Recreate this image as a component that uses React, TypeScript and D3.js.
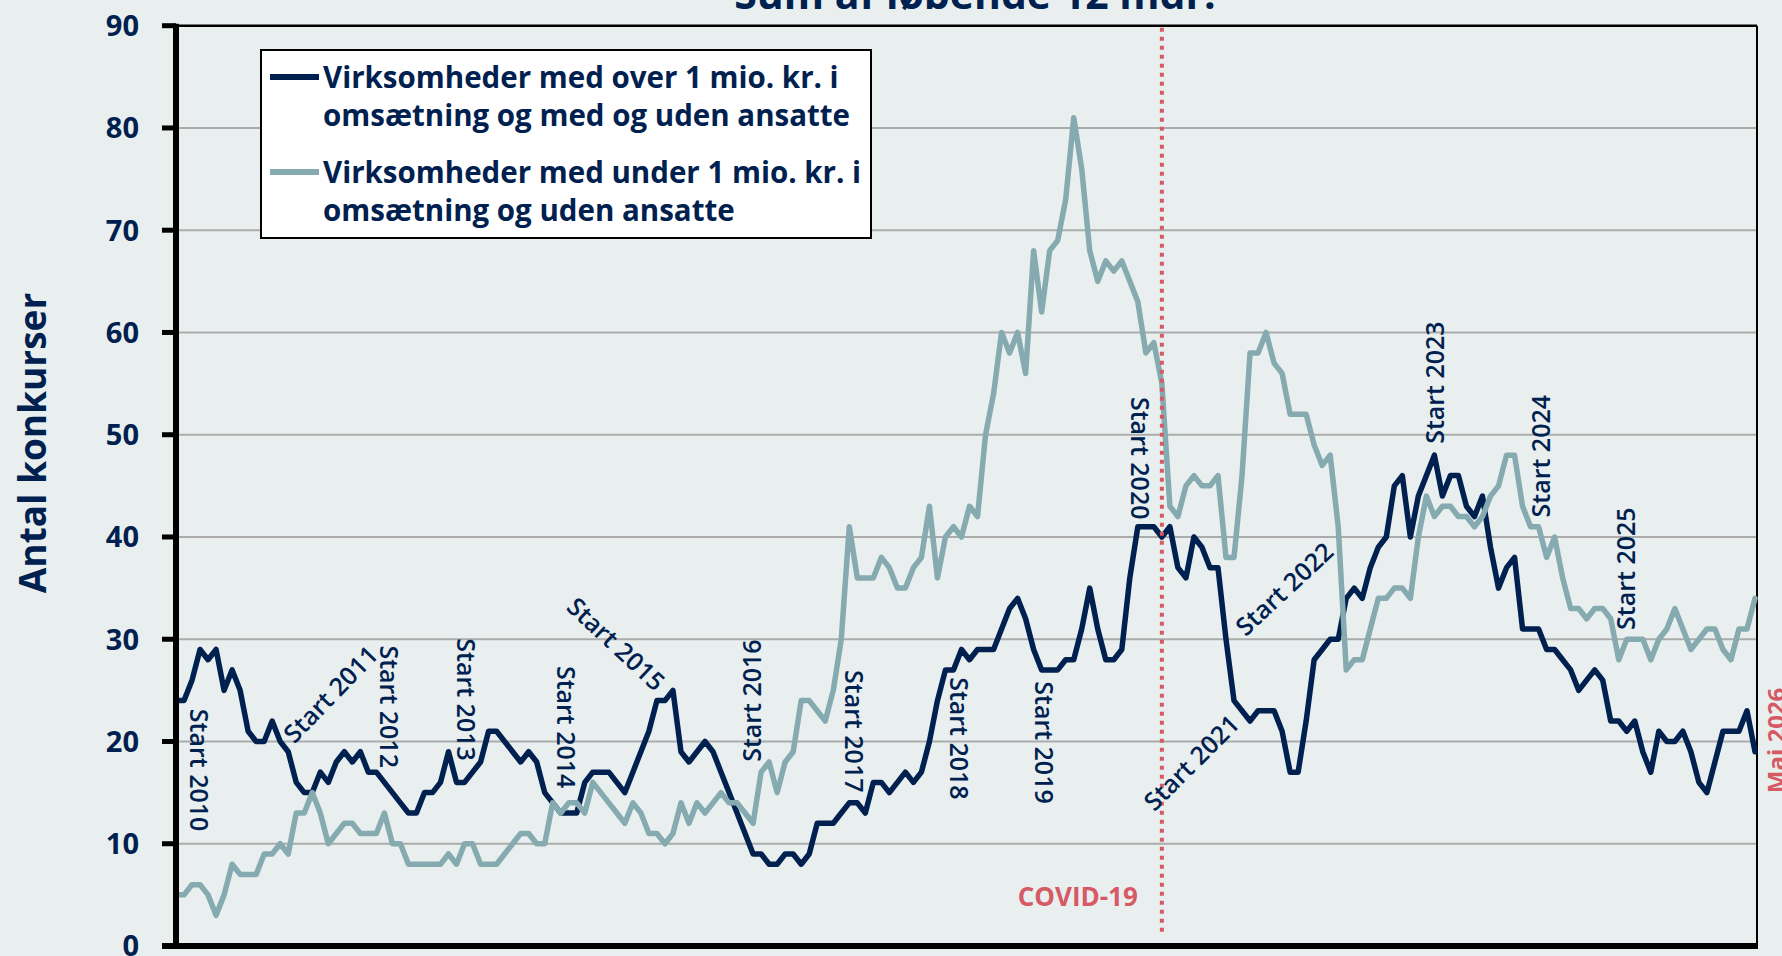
import React from 'react';
import * as d3 from 'd3';

// Antal konkurser, sum af løbende 12 mdr. (Dec 2009 .. Mai 2026)
const over1mio = [
  24, 24, 26, 29, 28, 29, 25, 27, 25, 21,
  20, 20, 22, 20, 19, 16, 15, 15, 17, 16,
  18, 19, 18, 19, 17, 17, 16, 15, 14, 13,
  13, 15, 15, 16, 19, 16, 16, 17, 18, 21,
  21, 20, 19, 18, 19, 18, 15, 14, 13, 13,
  13, 16, 17, 17, 17, 16, 15, 17, 19, 21,
  24, 24, 25, 19, 18, 19, 20, 19, 17, 15,
  13, 11, 9, 9, 8, 8, 9, 9, 8, 9,
  12, 12, 12, 13, 14, 14, 13, 16, 16, 15,
  16, 17, 16, 17, 20, 24, 27, 27, 29, 28,
  29, 29, 29, 31, 33, 34, 32, 29, 27, 27,
  27, 28, 28, 31, 35, 31, 28, 28, 29, 36,
  41, 41, 41, 40, 41, 37, 36, 40, 39, 37,
  37, 30, 24, 23, 22, 23, 23, 23, 21, 17,
  17, 22, 28, 29, 30, 30, 34, 35, 34, 37,
  39, 40, 45, 46, 40, 44, 46, 48, 44, 46,
  46, 43, 42, 44, 39, 35, 37, 38, 31, 31,
  31, 29, 29, 28, 27, 25, 26, 27, 26, 22,
  22, 21, 22, 19, 17, 21, 20, 20, 21, 19,
  16, 15, 18, 21, 21, 21, 23, 19,
];

const under1mio = [
  5, 5, 6, 6, 5, 3, 5, 8, 7, 7,
  7, 9, 9, 10, 9, 13, 13, 15, 13, 10,
  11, 12, 12, 11, 11, 11, 13, 10, 10, 8,
  8, 8, 8, 8, 9, 8, 10, 10, 8, 8,
  8, 9, 10, 11, 11, 10, 10, 14, 13, 14,
  14, 13, 16, 15, 14, 13, 12, 14, 13, 11,
  11, 10, 11, 14, 12, 14, 13, 14, 15, 14,
  14, 13, 12, 17, 18, 15, 18, 19, 24, 24,
  23, 22, 25, 30, 41, 36, 36, 36, 38, 37,
  35, 35, 37, 38, 43, 36, 40, 41, 40, 43,
  42, 50, 54, 60, 58, 60, 56, 68, 62, 68,
  69, 73, 81, 76, 68, 65, 67, 66, 67, 65,
  63, 58, 59, 55, 43, 42, 45, 46, 45, 45,
  46, 38, 38, 46, 58, 58, 60, 57, 56, 52,
  52, 52, 49, 47, 48, 41, 27, 28, 28, 31,
  34, 34, 35, 35, 34, 40, 44, 42, 43, 43,
  42, 42, 41, 42, 44, 45, 48, 48, 43, 41,
  41, 38, 40, 36, 33, 33, 32, 33, 33, 32,
  28, 30, 30, 30, 28, 30, 31, 33, 31, 29,
  30, 31, 31, 29, 28, 31, 31, 34,
];

const yTicks = [0, 10, 20, 30, 40, 50, 60, 70, 80, 90];

const legendItems = [
  ['Virksomheder med over 1 mio. kr. i', 'omsætning og med og uden ansatte'],
  ['Virksomheder med under 1 mio. kr. i', 'omsætning og uden ansatte'],
];

// year markers: month index, value, text angle
const yearNotes = [
  { text: 'Start 2010', i: 3.0, v: 17.2, rot: 90 },
  { text: 'Start 2011', i: 19.2, v: 24.7, rot: -46 },
  { text: 'Start 2012', i: 26.7, v: 23.4, rot: 90 },
  { text: 'Start 2013', i: 36.3, v: 24.1, rot: 90 },
  { text: 'Start 2014', i: 48.8, v: 21.4, rot: 90 },
  { text: 'Start 2015', i: 55.0, v: 29.6, rot: 43 },
  { text: 'Start 2016', i: 71.7, v: 24.0, rot: -90 },
  { text: 'Start 2017', i: 84.7, v: 21.0, rot: 90 },
  { text: 'Start 2018', i: 97.8, v: 20.3, rot: 90 },
  { text: 'Start 2019', i: 108.4, v: 19.9, rot: 90 },
  { text: 'Start 2020', i: 120.4, v: 47.7, rot: 90 },
  { text: 'Start 2021', i: 126.6, v: 18.0, rot: -45 },
  { text: 'Start 2022', i: 138.2, v: 35.0, rot: -43 },
  { text: 'Start 2023', i: 156.9, v: 55.1, rot: -90 },
  { text: 'Start 2024', i: 170.2, v: 47.9, rot: -90 },
  { text: 'Start 2025', i: 180.8, v: 36.9, rot: -90 },
];

const covidIndex = 123;

const W = 1782;
const H = 956;
const BG = '#E9EFEF';
const NAVY = '#00214F';
const TEAL = '#85AAAF';
const RED = '#D65A63';
const FONT = "'Open Sans', 'Noto Sans', sans-serif";

export default function App() {
  const left = 176;
  const right = 1755;
  const x = d3.scaleLinear().domain([0, over1mio.length - 1]).range([left, right]);
  const y = d3.scaleLinear().domain([0, 90]).range([946, 25.7]);
  const line = d3.line<number>().x((_, i) => x(i)).y(d => y(d));

  return (
    <svg width={W} height={H} style={{ position: 'absolute', left: 0, top: 0, display: 'block' }} fontFamily={FONT}>
      <rect width={W} height={H} fill={BG} />

      <text x={975} y={9} textAnchor="middle" fontSize={41} fontWeight={700} fill={NAVY}>
        Sum af løbende 12 mdr.
      </text>

      {/* grid */}
      {yTicks.filter(t => t > 0 && t < 90).map(t => (
        <line key={t} x1={left} x2={right + 2} y1={y(t)} y2={y(t)} stroke="#ABABAB" strokeWidth={2} />
      ))}

      {/* frame */}
      <line x1={left} x2={right + 2} y1={y(90)} y2={y(90)} stroke="#000" strokeWidth={2.5} />
      <line x1={right + 2} x2={right + 2} y1={y(90)} y2={y(0)} stroke="#000" strokeWidth={2} />

      <path d={line(over1mio) || ''} fill="none" stroke={NAVY} strokeWidth={5.5} strokeLinejoin="round" strokeLinecap="round" />
      <path d={line(under1mio) || ''} fill="none" stroke={TEAL} strokeWidth={5.5} strokeLinejoin="round" strokeLinecap="round" />

      {/* covid marker */}
      <line x1={x(covidIndex)} x2={x(covidIndex)} y1={y(90) + 2} y2={y(1.4)} stroke={RED} strokeWidth={4} strokeDasharray="4 5" />
      <text x={x(covidIndex) - 24} y={y(3.9)} textAnchor="end" fontSize={26} fontWeight={700} fill={RED}>COVID-19</text>

      {/* year labels */}
      {yearNotes.map(n => (
        <text key={n.text} transform={`translate(${x(n.i)},${y(n.v)}) rotate(${n.rot})`}
          textAnchor="middle" dominantBaseline="central" fontSize={25} fontWeight={600} fill={NAVY}>
          {n.text}
        </text>
      ))}

      <text transform={`translate(${x(over1mio.length - 1) + 20},${y(20.1)}) rotate(-90)`}
        textAnchor="middle" dominantBaseline="central" fontSize={24} fontWeight={700} fill={RED}>Mai 2026</text>

      {/* axes */}
      <line x1={left} x2={left} y1={y(90) - 2} y2={y(0) + 3} stroke="#000" strokeWidth={6} />
      <line x1={162} x2={right + 3} y1={y(0)} y2={y(0)} stroke="#000" strokeWidth={6} />
      {yTicks.map(t => (
        <g key={t}>
          <line x1={162} x2={left} y1={y(t)} y2={y(t)} stroke="#000" strokeWidth={5} />
          <text x={139} y={y(t)} dy="0.36em" textAnchor="end" fontSize={29} fontWeight={700} fill={NAVY}>{t}</text>
        </g>
      ))}

      <text transform={`translate(31,443) rotate(-90)`} textAnchor="middle" dominantBaseline="central"
        fontSize={37} fontWeight={700} fill={NAVY}>Antal konkurser</text>

      {/* legend */}
      <rect x={261} y={50} width={610} height={188} fill="#fff" stroke="#000" strokeWidth={2} />
      {legendItems.map((lines, k) => (
        <g key={k}>
          <line x1={270} x2={319} y1={77 + k * 95} y2={77 + k * 95} stroke={k === 0 ? NAVY : TEAL} strokeWidth={6} />
          {lines.map((s, j) => (
            <text key={j} x={323} y={88 + k * 95 + j * 38} fontSize={29.5} fontWeight={700} fill={NAVY}>{s}</text>
          ))}
        </g>
      ))}
    </svg>
  );
}
